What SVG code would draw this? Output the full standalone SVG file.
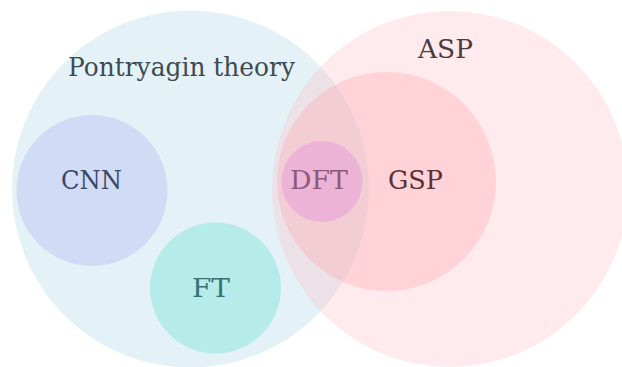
<svg xmlns="http://www.w3.org/2000/svg" width="622" height="367" viewBox="0 0 622 367">
<style>
.t{font-family:'DejaVu Serif','Liberation Serif',serif;font-size:26px;text-anchor:middle}
</style>
<rect width="622" height="367" fill="#ffffff"/>
<g id="pontryagin"><circle cx="190.5" cy="189" r="178.5" fill="#ADD8E6" fill-opacity="0.33"/></g>
<g id="asp"><circle cx="450" cy="189" r="178" fill="#FFC0CB" fill-opacity="0.33"/></g>
<g id="cnn"><circle cx="92" cy="190.5" r="75.5" fill="#D0DBF5"/></g>
<g id="ft"><circle cx="215.5" cy="288" r="65.5" fill="#B5ECEA"/></g>
<g id="gsp"><circle cx="386.5" cy="181.5" r="109.5" fill="#FF9EA6" fill-opacity="0.3"/></g>
<g id="dft"><circle cx="322" cy="181.5" r="40.5" fill="#EDB3D6"/></g>
<g id="labels">
<text class="t" x="181.5" y="76" fill="#3d4a52" textLength="227" lengthAdjust="spacingAndGlyphs">Pontryagin theory</text>
<text class="t" x="445.5" y="58" fill="#4a3c40" textLength="55" lengthAdjust="spacingAndGlyphs">ASP</text>
<text class="t" x="319" y="189" fill="#8c5a78" textLength="58" lengthAdjust="spacingAndGlyphs">DFT</text>
<text class="t" x="415.5" y="189" fill="#5c3034" textLength="55" lengthAdjust="spacingAndGlyphs">GSP</text>
<text class="t" x="91.5" y="189" fill="#3a4666" textLength="61" lengthAdjust="spacingAndGlyphs">CNN</text>
<text class="t" x="211" y="297" fill="#3a7070" textLength="38" lengthAdjust="spacingAndGlyphs">FT</text>
</g>
</svg>
